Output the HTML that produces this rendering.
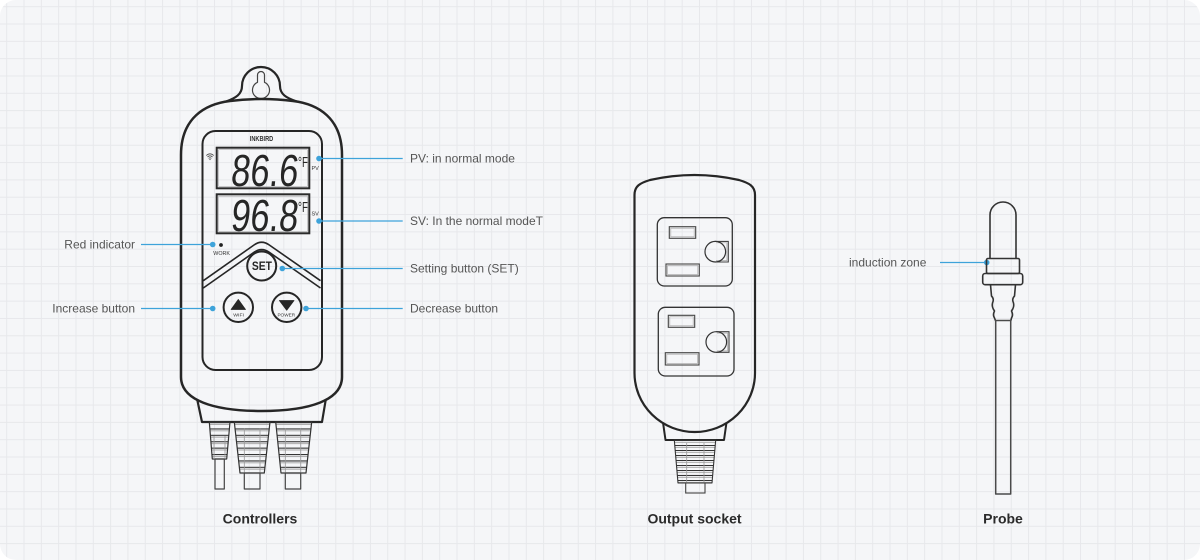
<!DOCTYPE html>
<html>
<head>
<meta charset="utf-8">
<style>
html,body{margin:0;padding:0;background:#ffffff;}
body{width:1200px;height:560px;position:relative;overflow:hidden;}
svg{position:absolute;left:0;top:0;}
.lbl{font-family:"Liberation Sans",sans-serif;font-size:12px;fill:#555;}
.ttl{font-family:"Liberation Sans",sans-serif;font-size:14px;font-weight:bold;fill:#2b2b2b;}
</style>
</head>
<body>
<svg width="1200" height="560" viewBox="0 0 1200 560" xmlns="http://www.w3.org/2000/svg">
<defs>
  <pattern id="grid" patternUnits="userSpaceOnUse" x="6.2" y="6.2" width="17.32" height="17.32">
    <rect x="0" y="0" width="17.32" height="17.32" fill="#f5f6f8"/>
    <line x1="0.5" y1="0" x2="0.5" y2="17.32" stroke="#e7e8eb" stroke-width="1"/>
    <line x1="0" y1="0.5" x2="17.32" y2="0.5" stroke="#e7e8eb" stroke-width="1"/>
  </pattern>
  <pattern id="rib" patternUnits="userSpaceOnUse" width="20" height="6.4" y="422">
    <line x1="0" y1="0.5" x2="20" y2="0.5" stroke="#333" stroke-width="1.1"/>
    <line x1="0" y1="2.4" x2="20" y2="2.4" stroke="#a0a0a0" stroke-width="0.8"/>
  </pattern>
  <pattern id="rib2" patternUnits="userSpaceOnUse" width="20" height="5" y="440">
    <line x1="0" y1="0.5" x2="20" y2="0.5" stroke="#333" stroke-width="1"/>
    <line x1="0" y1="2.3" x2="20" y2="2.3" stroke="#a0a0a0" stroke-width="0.8"/>
  </pattern>
</defs>

<rect x="0" y="0" width="1200" height="560" rx="16" ry="16" fill="url(#grid)"/>

<!-- ============ CONTROLLER ============ -->
<g fill="none" stroke="#262626" stroke-linejoin="round" stroke-linecap="round">
  <path d="M226,101.5 C236,98 242,94 242,86 A19,19 0 0 1 280,86 C280,94 286,98 297,101.5" stroke-width="2.2"/>
  <path d="M257.5,82.3 L257.5,75 A3.5,3.5 0 0 1 264.5,75 L264.5,82.3 A8.5,8.5 0 1 1 257.5,82.3 Z" stroke-width="1.2" stroke="#444"/>
  <path d="M181,155 C181,118 205,104 230,101 C250,98.5 273,98.5 293,101 C318,104 342,118 342,155 L342,377 C342,400 310,411 261.5,411 C213,411 181,400 181,377 Z" stroke-width="2.5"/>
  <path d="M197.3,400 L202,422 L322,422 L325.7,400" stroke-width="2.2"/>
  <rect x="202.5" y="131" width="119.5" height="239" rx="13" stroke-width="2"/>
</g>

<!-- cables -->
<g stroke-linejoin="round">
  <polygon points="209.3,422 230,422 226.7,459 212.3,459" fill="url(#rib)" stroke="#333" stroke-width="1.2"/>
  <line x1="214" y1="436" x2="214" y2="459" stroke="#999" stroke-width="0.8"/>
  <line x1="225" y1="436" x2="225" y2="459" stroke="#999" stroke-width="0.8"/>
  <rect x="215" y="459" width="9.3" height="30" fill="none" stroke="#444" stroke-width="1.2"/>

  <polygon points="234.3,422 270,422 264.3,473 240,473" fill="url(#rib)" stroke="#333" stroke-width="1.2"/>
  <line x1="244.3" y1="428" x2="244.3" y2="473" stroke="#999" stroke-width="0.8"/>
  <line x1="260" y1="428" x2="260" y2="473" stroke="#999" stroke-width="0.8"/>
  <rect x="244.3" y="473" width="15.7" height="16" fill="none" stroke="#444" stroke-width="1.2"/>

  <polygon points="275.7,422 311.7,422 306,473 281,473" fill="url(#rib)" stroke="#333" stroke-width="1.2"/>
  <line x1="285.3" y1="428" x2="285.3" y2="473" stroke="#999" stroke-width="0.8"/>
  <line x1="300.7" y1="428" x2="300.7" y2="473" stroke="#999" stroke-width="0.8"/>
  <rect x="285.3" y="473" width="15.4" height="16" fill="none" stroke="#444" stroke-width="1.2"/>
</g>

<!-- display -->
<text x="261.5" y="141" text-anchor="middle" font-family="Liberation Sans, sans-serif" font-weight="bold" font-size="7" fill="#333" textLength="23.5" lengthAdjust="spacingAndGlyphs">INKBIRD</text>
<g fill="none">
  <rect x="216.7" y="147.7" width="92.6" height="40.6" stroke="#2a2a2a" stroke-width="2"/>
  <rect x="218.6" y="149.6" width="88.8" height="36.8" stroke="#aaa" stroke-width="0.6"/>
  <rect x="216.7" y="194.3" width="92.6" height="39" stroke="#2a2a2a" stroke-width="2"/>
  <rect x="218.6" y="196.2" width="88.8" height="35.2" stroke="#aaa" stroke-width="0.6"/>
</g>
<g transform="translate(230,186) skewX(-6)">
  <text x="0" y="0" font-family="Liberation Sans, sans-serif" font-size="45" fill="#262626" textLength="67" lengthAdjust="spacingAndGlyphs">86.6</text>
</g>
<g transform="translate(298,167)">
  <text x="0" y="0" font-family="Liberation Sans, sans-serif" font-size="15" fill="#262626" textLength="10" lengthAdjust="spacingAndGlyphs">°F</text>
</g>
<g transform="translate(230,231) skewX(-6)">
  <text x="0" y="0" font-family="Liberation Sans, sans-serif" font-size="45" fill="#262626" textLength="67" lengthAdjust="spacingAndGlyphs">96.8</text>
</g>
<g transform="translate(298,212)">
  <text x="0" y="0" font-family="Liberation Sans, sans-serif" font-size="15" fill="#262626" textLength="10" lengthAdjust="spacingAndGlyphs">°F</text>
</g>
<text x="311.5" y="170" font-family="Liberation Sans, sans-serif" font-size="5.5" fill="#333">PV</text>
<text x="311.5" y="215.7" font-family="Liberation Sans, sans-serif" font-size="5.5" fill="#333">SV</text>
<g fill="none" stroke="#444" stroke-width="0.8" stroke-linecap="round">
  <path d="M206.5,155.3 Q210,152.3 213.5,155.3"/>
  <path d="M207.7,156.8 Q210,154.8 212.3,156.8"/>
  <path d="M208.9,158.2 Q210,157.3 211.1,158.2"/>
</g>
<circle cx="210" cy="159.5" r="0.6" fill="#444"/>

<circle cx="221" cy="245" r="1.9" fill="#222"/>
<text x="221.6" y="255" text-anchor="middle" font-family="Liberation Sans, sans-serif" font-size="5" fill="#333" textLength="16.7" lengthAdjust="spacingAndGlyphs">WORK</text>

<g fill="none" stroke="#262626" stroke-width="1.6" stroke-linejoin="round">
  <path d="M203.3,280.7 L254,245 Q261.6,239.5 269.3,245 L320.5,280.7"/>
  <path d="M203.3,288 L254,252.3 Q261.6,246.8 269.3,252.3 L320.5,288"/>
</g>

<g fill="none" stroke="#262626" stroke-width="2">
  <circle cx="261.7" cy="266" r="14.5"/>
  <circle cx="238.3" cy="307.3" r="14.7"/>
  <circle cx="286.7" cy="307.3" r="14.7"/>
</g>
<text x="261.9" y="270.2" text-anchor="middle" font-family="Liberation Sans, sans-serif" font-weight="bold" font-size="11.5" fill="#262626" textLength="20" lengthAdjust="spacingAndGlyphs">SET</text>
<polygon points="238.3,299.5 245.5,309.5 231.1,309.5" fill="#262626" stroke="#262626" stroke-width="0.8" stroke-linejoin="round"/>
<polygon points="279.4,300.5 294,300.5 286.7,310.2" fill="#262626" stroke="#262626" stroke-width="0.8" stroke-linejoin="round"/>
<text x="238.6" y="316.6" text-anchor="middle" font-family="Liberation Sans, sans-serif" font-size="4.8" fill="#333" textLength="10.7" lengthAdjust="spacingAndGlyphs">WIFI</text>
<text x="286.3" y="316.6" text-anchor="middle" font-family="Liberation Sans, sans-serif" font-size="4.8" fill="#333" textLength="17.7" lengthAdjust="spacingAndGlyphs">POWER</text>

<!-- connectors -->
<g stroke="#3ea3da" stroke-width="1.2" fill="none">
  <line x1="319" y1="158.5" x2="402.7" y2="158.5"/>
  <line x1="319" y1="221" x2="402.7" y2="221"/>
  <line x1="282.3" y1="268.5" x2="402.7" y2="268.5"/>
  <line x1="306" y1="308.5" x2="402.7" y2="308.5"/>
  <line x1="141" y1="244.5" x2="212.7" y2="244.5"/>
  <line x1="141" y1="308.5" x2="212.7" y2="308.5"/>
  <line x1="940" y1="262.5" x2="986.7" y2="262.5"/>
</g>
<g fill="#3ea3da">
  <circle cx="319" cy="158.5" r="2.8"/>
  <circle cx="319" cy="221" r="2.8"/>
  <circle cx="282.3" cy="268.5" r="2.8"/>
  <circle cx="306" cy="308.5" r="2.8"/>
  <circle cx="212.7" cy="244.5" r="2.8"/>
  <circle cx="212.7" cy="308.5" r="2.8"/>
  <circle cx="986.7" cy="262.5" r="2.8"/>
</g>

<text class="lbl" x="410" y="162.5">PV: in normal mode</text>
<text class="lbl" x="410" y="225">SV: In the normal modeT</text>
<text class="lbl" x="410" y="272.5">Setting button (SET)</text>
<text class="lbl" x="410" y="312.5">Decrease button</text>
<text class="lbl" x="135" y="248.5" text-anchor="end">Red indicator</text>
<text class="lbl" x="135" y="312.5" text-anchor="end">Increase button</text>
<text class="lbl" x="849" y="266.5">induction zone</text>

<!-- ============ SOCKET ============ -->
<g fill="none" stroke="#262626" stroke-linejoin="round">
  <path d="M663,422.5 L665.5,440 L724,440 L726.5,422.5" stroke-width="2"/>
  <path d="M634.5,195 C634.5,186 640,183 650,180 Q694.5,170 739,180 C749,183 755,186 755,195 L755,373 A60.25,59 0 0 1 634.5,373 Z" stroke-width="2.2"/>
  <rect x="657.3" y="217.7" width="75" height="68.3" rx="7" stroke-width="1.3" stroke="#333"/>
  <rect x="658.3" y="307.3" width="75.7" height="68.7" rx="7" stroke-width="1.3" stroke="#333"/>
</g>
<g fill="none">
  <rect x="669.3" y="226.7" width="26.4" height="11.6" stroke="#444" stroke-width="1.1"/>
  <rect x="670.8" y="228.2" width="23.4" height="8.6" stroke="#aaa" stroke-width="0.7"/>
  <rect x="666" y="264" width="33.3" height="12" stroke="#444" stroke-width="1.1"/>
  <rect x="667.5" y="265.5" width="30.3" height="9" stroke="#aaa" stroke-width="0.7"/>
  <rect x="668.3" y="315.3" width="26.4" height="12" stroke="#444" stroke-width="1.1"/>
  <rect x="669.8" y="316.8" width="23.4" height="9" stroke="#aaa" stroke-width="0.7"/>
  <rect x="665.3" y="352.7" width="33.7" height="12.3" stroke="#444" stroke-width="1.1"/>
  <rect x="666.8" y="354.2" width="30.7" height="9.3" stroke="#aaa" stroke-width="0.7"/>

  <path d="M715.3,241.4 L728.3,241.4 L728.3,262 L715.3,262" stroke="#444" stroke-width="1.1"/>
  <path d="M716,242.8 L726.9,242.8 L726.9,260.6 L716,260.6" stroke="#aaa" stroke-width="0.7"/>
  <circle cx="715.3" cy="251.7" r="10.3" stroke="#333" stroke-width="1.2"/>
  <path d="M716.3,331.7 L729,331.7 L729,352.3 L716.3,352.3" stroke="#444" stroke-width="1.1"/>
  <path d="M717,333.1 L727.6,333.1 L727.6,350.9 L717,350.9" stroke="#aaa" stroke-width="0.7"/>
  <circle cx="716.3" cy="342" r="10.3" stroke="#333" stroke-width="1.2"/>
</g>
<polygon points="674.3,440 715.7,440 712,483 678,483" fill="url(#rib2)" stroke="#333" stroke-width="1.1" stroke-linejoin="round"/>
<line x1="686.7" y1="443" x2="686.7" y2="483" stroke="#999" stroke-width="0.8"/>
<line x1="704" y1="443" x2="704" y2="483" stroke="#999" stroke-width="0.8"/>
<rect x="685.7" y="483" width="19.3" height="10" fill="none" stroke="#444" stroke-width="1.1"/>

<!-- ============ PROBE ============ -->
<g fill="none" stroke="#333" stroke-width="1.6" stroke-linejoin="round">
  <path d="M990,258.5 L990,215 A13,13 0 0 1 1016,215 L1016,258.5"/>
  <rect x="986.5" y="258.5" width="33" height="15" rx="1.5"/>
  <rect x="982.7" y="273.5" width="40" height="11.2" rx="2.5"/>
  <path d="M990.5,284.7 L991.5,296 Q994.5,299 992.5,303 Q991.5,307 994.5,311 Q992.5,315 994.5,318 L995.7,321"/>
  <path d="M1015.5,284.7 L1014.5,296 Q1011.5,299 1013.5,303 Q1014.5,307 1011.5,311 Q1013.5,315 1011.5,318 L1010.7,321"/>
  <path d="M995.7,320.5 L995.7,494 L1010.7,494 L1010.7,320.5 Z" stroke="#4a4a4a" stroke-width="1.5"/>
</g>

<text class="ttl" x="260" y="523.5" text-anchor="middle">Controllers</text>
<text class="ttl" x="694.5" y="523.5" text-anchor="middle">Output socket</text>
<text class="ttl" x="1003" y="523.5" text-anchor="middle">Probe</text>
</svg>
</body>
</html>
